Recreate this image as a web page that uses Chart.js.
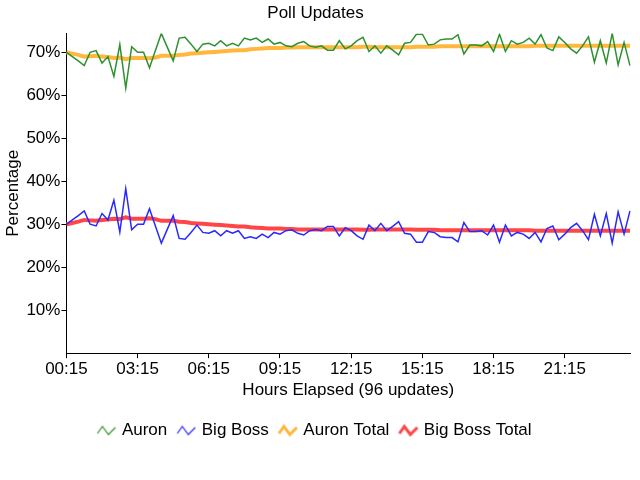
<!DOCTYPE html>
<html>
<head>
<meta charset="utf-8">
<script src="https://cdn.jsdelivr.net/npm/chart.js@4/dist/chart.umd.min.js"></script>
<style>
  html, body { margin: 0; padding: 0; background: #fff; }
  #wrap { width: 640px; height: 480px; }
</style>
</head>
<body>
<div id="wrap"><canvas id="poll"></canvas></div>
<script>
// values, one per 15-minute update
const auron = [
    70.0, 69.0, 68.0, 66.9, 70.0, 70.4, 67.5, 69.0, 64.4, 71.8, 61.7, 71.3,
    70.0, 70.0, 66.4, 70.4, 74.4, 71.2, 68.0, 73.3, 73.5, 71.9, 70.2, 71.9,
    72.1, 71.5, 72.7, 71.5, 72.1, 71.5, 73.3, 72.9, 73.3, 72.3, 73.1, 71.9,
    72.3, 71.5, 71.3, 72.1, 72.5, 71.5, 71.2, 71.5, 70.5, 70.5, 72.7, 70.8,
    71.5, 72.7, 73.5, 70.2, 71.5, 69.8, 71.5, 70.5, 69.4, 72.1, 72.3, 74.2,
    74.2, 71.7, 71.9, 72.9, 73.1, 73.1, 74.1, 69.6, 71.7, 71.7, 71.5, 72.5,
    70.2, 74.2, 70.2, 72.7, 71.9, 72.3, 73.3, 71.9, 74.1, 71.0, 70.4, 73.6,
    72.3, 70.8, 69.8, 71.5, 73.6, 67.7, 72.7, 67.5, 74.4, 67.1, 72.3, 66.9
];
const bigBoss = [
    30.0, 31.0, 32.0, 33.1, 30.0, 29.6, 32.5, 31.0, 35.6, 28.2, 38.3, 28.7,
    30.0, 30.0, 33.6, 29.6, 25.6, 28.8, 32.0, 26.7, 26.5, 28.1, 29.8, 28.1,
    27.9, 28.5, 27.3, 28.5, 27.9, 28.5, 26.7, 27.1, 26.7, 27.7, 26.9, 28.1,
    27.7, 28.5, 28.7, 27.9, 27.5, 28.5, 28.8, 28.5, 29.5, 29.5, 27.3, 29.2,
    28.5, 27.3, 26.5, 29.8, 28.5, 30.2, 28.5, 29.5, 30.6, 27.9, 27.7, 25.8,
    25.8, 28.3, 28.1, 27.1, 26.9, 26.9, 25.9, 30.4, 28.3, 28.3, 28.5, 27.5,
    29.8, 25.8, 29.8, 27.3, 28.1, 27.7, 26.7, 28.1, 25.9, 29.0, 29.6, 26.4,
    27.7, 29.2, 30.2, 28.5, 26.4, 32.3, 27.3, 32.5, 25.6, 32.9, 27.7, 33.1
];
const auronTotal = [
    70.0, 69.7, 69.4, 69.0, 69.1, 69.2, 69.0, 68.9, 68.7, 68.8, 68.4, 68.7,
    68.7, 68.7, 68.6, 68.8, 69.2, 69.2, 69.2, 69.4, 69.5, 69.7, 69.8, 69.9,
    70.0, 70.1, 70.2, 70.3, 70.4, 70.5, 70.5, 70.7, 70.8, 70.9, 71.0, 71.0,
    71.0, 71.1, 71.1, 71.2, 71.2, 71.2, 71.2, 71.2, 71.2, 71.2, 71.2, 71.2,
    71.2, 71.2, 71.3, 71.3, 71.2, 71.2, 71.2, 71.2, 71.2, 71.2, 71.2, 71.3,
    71.3, 71.3, 71.3, 71.4, 71.4, 71.4, 71.4, 71.4, 71.4, 71.4, 71.4, 71.4,
    71.4, 71.4, 71.4, 71.4, 71.4, 71.4, 71.4, 71.5, 71.5, 71.5, 71.5, 71.5,
    71.5, 71.5, 71.5, 71.5, 71.5, 71.5, 71.5, 71.5, 71.5, 71.5, 71.5, 71.5
];
const bigBossTotal = [
    30.0, 30.3, 30.6, 31.0, 30.9, 30.8, 31.0, 31.1, 31.3, 31.2, 31.6, 31.3,
    31.3, 31.3, 31.4, 31.2, 30.8, 30.8, 30.8, 30.6, 30.5, 30.3, 30.2, 30.1,
    30.0, 29.9, 29.8, 29.7, 29.6, 29.5, 29.5, 29.3, 29.2, 29.1, 29.0, 29.0,
    29.0, 28.9, 28.9, 28.8, 28.8, 28.8, 28.8, 28.8, 28.8, 28.8, 28.8, 28.8,
    28.8, 28.8, 28.7, 28.7, 28.8, 28.8, 28.8, 28.8, 28.8, 28.8, 28.8, 28.7,
    28.7, 28.7, 28.7, 28.6, 28.6, 28.6, 28.6, 28.6, 28.6, 28.6, 28.6, 28.6,
    28.6, 28.6, 28.6, 28.6, 28.6, 28.6, 28.6, 28.5, 28.5, 28.5, 28.5, 28.5,
    28.5, 28.5, 28.5, 28.5, 28.5, 28.5, 28.5, 28.5, 28.5, 28.5, 28.5, 28.5
];

// time labels, 00:15 then every 15 minutes; only every 12th is printed
const timeLabels = [];
for (let i = 0; i < auron.length; i++) {
    const m = 15 + i * 15;
    timeLabels.push(String(Math.floor(m / 60)).padStart(2, '0') + ':' + String(m % 60).padStart(2, '0'));
}

const FONT = "'Liberation Sans', Arial, sans-serif";

function zigzag(color, width) {
    const c = document.createElement('canvas');
    c.width = 22;
    c.height = 14;
    const g = c.getContext('2d');
    g.strokeStyle = color;
    g.lineWidth = width;
    g.beginPath();
    g.moveTo(2, 10);
    g.lineTo(7, 3);
    g.lineTo(13, 11);
    g.lineTo(20, 4);
    g.stroke();
    return c;
}

const green = 'rgb(45,145,45)';
const blue = 'rgb(40,40,255)';
const orange = 'rgba(255,175,40,0.9)';
const red = 'rgba(255,50,50,0.9)';

function series(label, data, color, width) {
    return {
        label,
        data,
        borderColor: color,
        backgroundColor: color,
        borderWidth: width,
        pointRadius: 0,
        pointHoverRadius: 0,
        pointStyle: zigzag(color, width > 2 ? 3 : 1.2),
        tension: 0,
        fill: false
    };
}

new Chart(document.getElementById('poll'), {
    type: 'line',
    data: {
        labels: timeLabels,
        datasets: [
            series('Auron', auron, green, 1.5),
            series('Big Boss', bigBoss, blue, 1.5),
            series('Auron Total', auronTotal, orange, 4),
            series('Big Boss Total', bigBossTotal, red, 4)
        ]
    },
    options: {
        responsive: true,
        maintainAspectRatio: false,
        animation: false,
        layout: { padding: { left: 1, right: 10, top: 0, bottom: 31 } },
        plugins: {
            title: {
                display: true,
                text: 'Poll Updates',
                color: '#000',
                font: { family: FONT, size: 17, weight: 'normal' },
                padding: { top: 3, bottom: 10 }
            },
            legend: {
                position: 'bottom',
                labels: {
                    color: '#000',
                    font: { family: FONT, size: 17 },
                    usePointStyle: true,
                    pointStyleWidth: 14,
                    padding: 12
                }
            },
            tooltip: { enabled: false }
        },
        scales: {
            x: {
                offset: false,
                grid: { display: true, drawOnChartArea: false, color: '#000', tickLength: 5 },
                border: { color: '#000', width: 1 },
                ticks: {
                    autoSkip: false,
                    maxRotation: 0,
                    color: '#000',
                    font: { family: FONT, size: 17 },
                    padding: 1,
                    callback: (v, i) => (i % 12 === 0 ? timeLabels[i] : null)
                },
                title: {
                    display: true,
                    text: 'Hours Elapsed (96 updates)',
                    color: '#000',
                    font: { family: FONT, size: 17 },
                    padding: { top: 0, bottom: 9 }
                }
            },
            y: {
                min: 0,
                max: 74.4,
                grid: { display: true, drawOnChartArea: false, color: '#000', tickLength: 5 },
                border: { color: '#000', width: 1 },
                ticks: {
                    stepSize: 10,
                    includeBounds: false,
                    color: '#000',
                    font: { family: FONT, size: 17 },
                    padding: 1,
                    callback: v => (v > 0 && v % 10 === 0 ? v + '%' : null)
                },
                title: {
                    display: true,
                    text: 'Percentage',
                    color: '#000',
                    font: { family: FONT, size: 17 },
                    padding: 2
                }
            }
        }
    }
});
</script>
</body>
</html>
